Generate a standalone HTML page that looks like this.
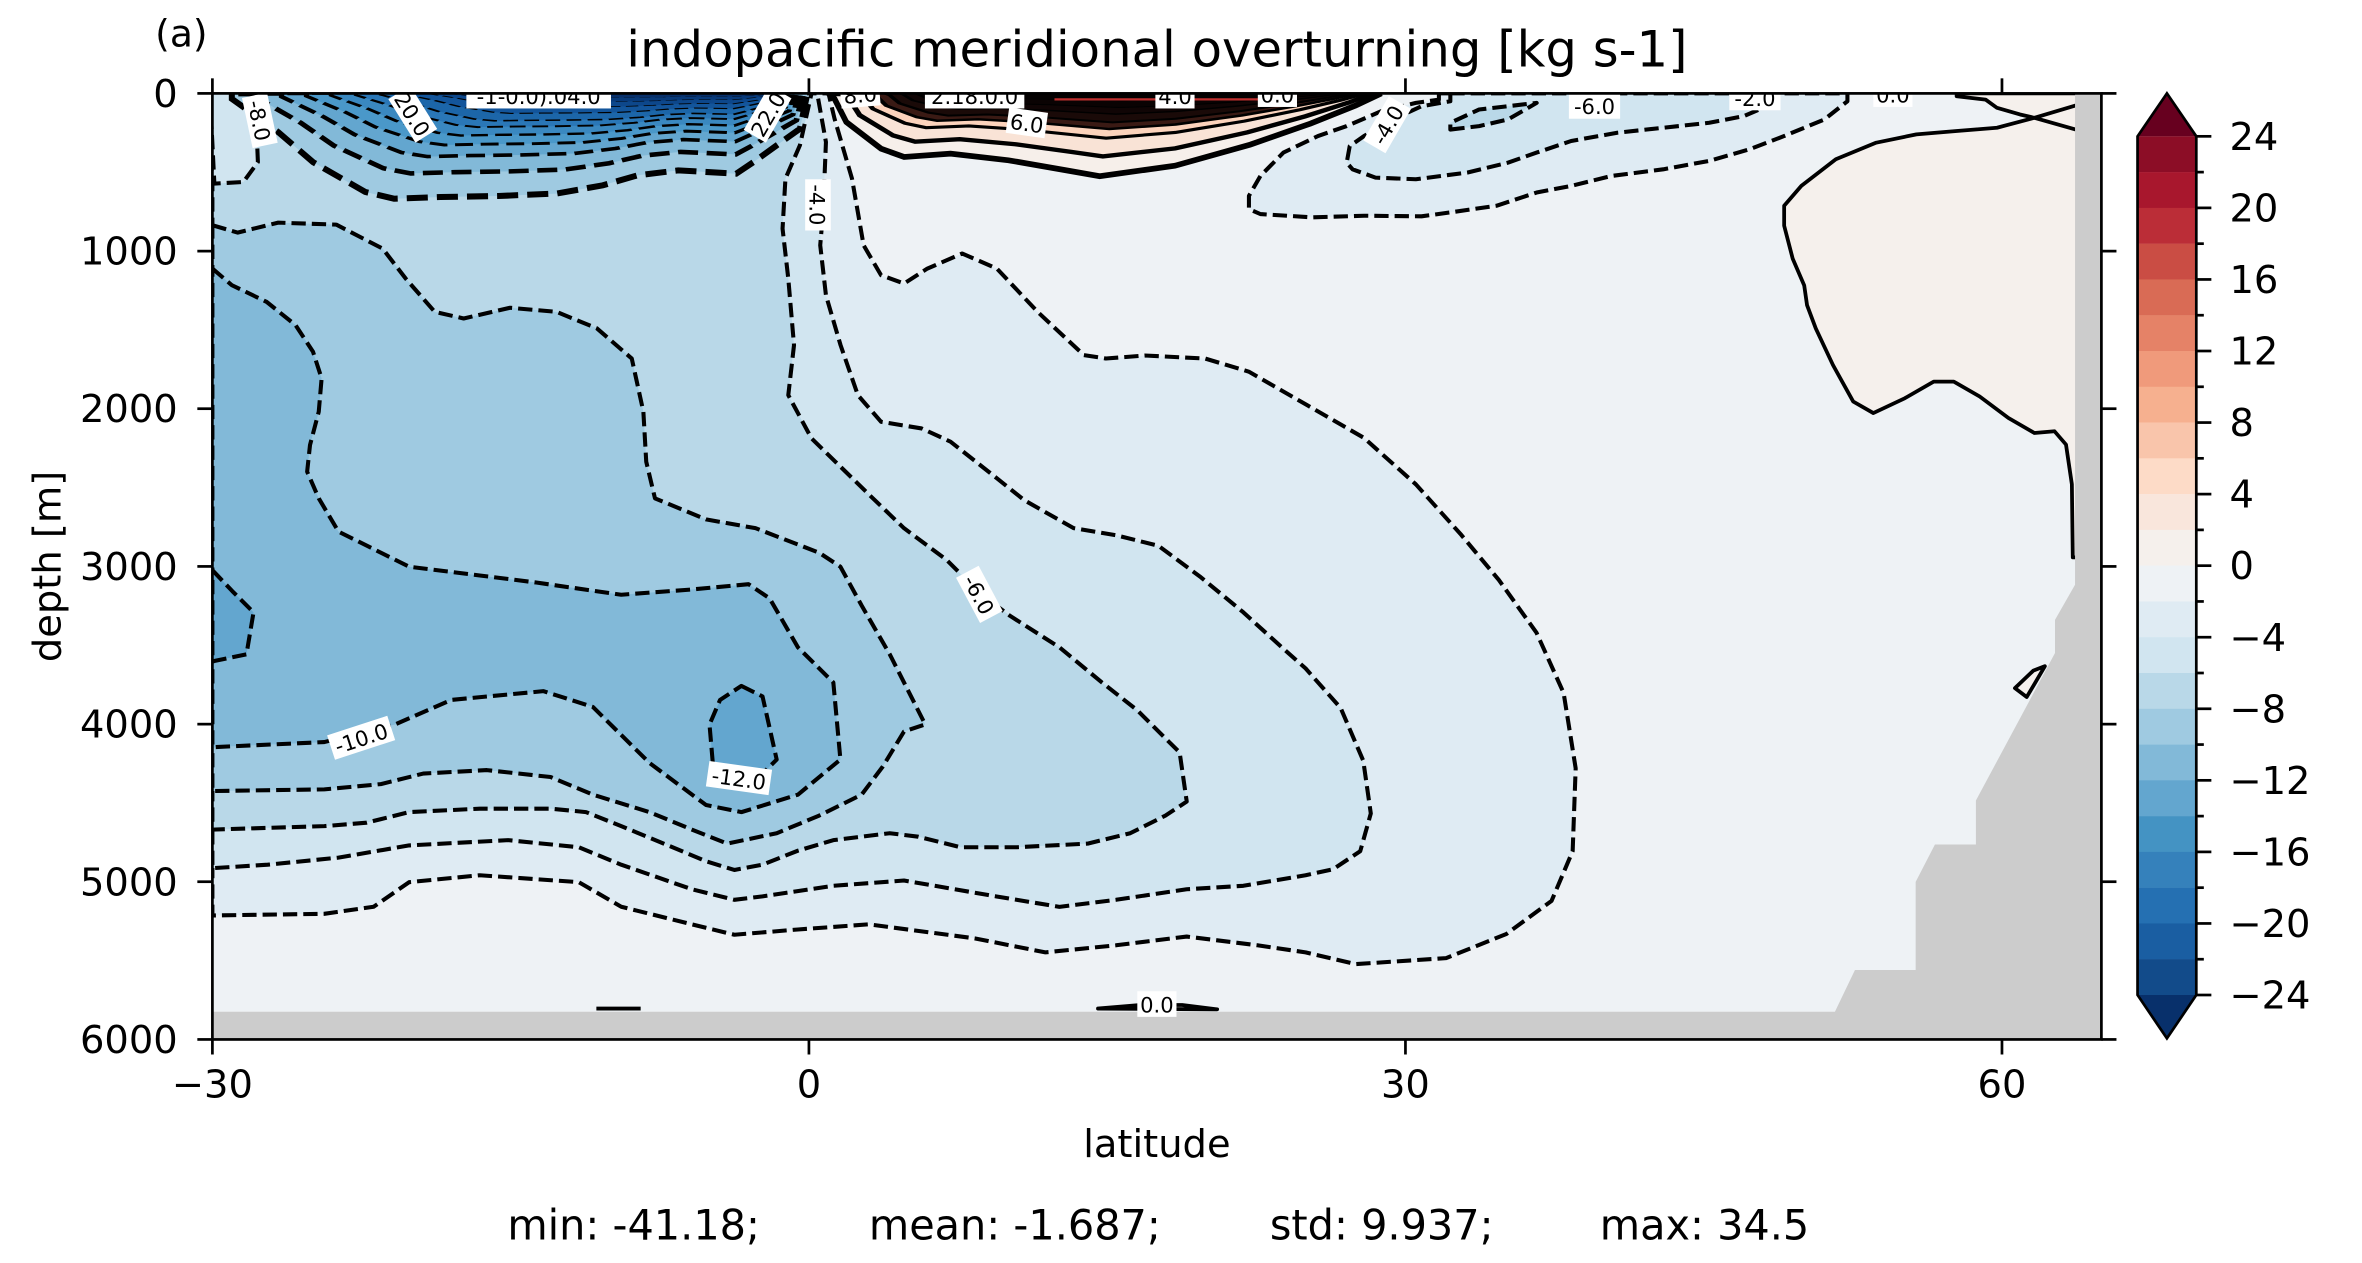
<!DOCTYPE html>
<html><head><meta charset="utf-8"><style>
html,body{margin:0;padding:0;background:#fff;}
svg{display:block;}
text{font-family:"DejaVu Sans","Liberation Sans",sans-serif;fill:#000;}
.dl{stroke:#000;stroke-width:2.7;stroke-dasharray:9.5 4;fill-rule:evenodd;stroke-linejoin:round;}
.sl{stroke:#000;stroke-width:2.5;stroke-linejoin:round;}
.nb{stroke:#000;stroke-width:4;stroke-dasharray:14 6;vector-effect:non-scaling-stroke;}
.ps{stroke:#000;stroke-width:3.8;vector-effect:non-scaling-stroke;}
.cl rect{fill:#fff;}
.cl text{font-size:14px;text-anchor:middle;}
.tk{stroke:#000;stroke-width:1.8;}
.tl{font-size:25.5px;}
</style></head><body>
<svg width="2362" height="1263" viewBox="0 0 1568 838.4" preserveAspectRatio="none" xmlns="http://www.w3.org/2000/svg">
<defs>
<clipPath id="pc"><rect x="141" y="62" width="1254" height="628"/></clipPath>
<path id="b1" d="M153.9,62 L153.9,65.6 L184.7,87.7 L207.8,107.6 L242.4,127.4 L261.6,131.9 L292.4,130.8 L330.9,130.1 L369.4,128.5 L400.2,123 L423.2,116.4 L450.2,113.1 L488.7,115.3 L500.2,107.6 L515.6,96.5 L531,85.5 L536,62 Z"/>
<path id="p1" d="M550,62 L554,65.6 L561.8,81 L584.9,98.7 L600.2,104.2 L631,102 L669.5,106.4 L708,113.1 L730,117 L780,110 L830,96 L870,82 L900,70 L917,62 Z"/>
</defs>
<rect width="1568" height="838.4" fill="#fff"/>
<g clip-path="url(#pc)">
<rect x="141" y="62" width="1254" height="628" fill="#eef2f5"/>
<path class="dl" fill="#dfebf3" d="M141,62 L550,62 L554,78.8 L565.6,118.6 L573.3,162.8 L584.9,182.7 L600.2,188.2 L615.6,178.3 L638.7,168.3 L661.8,178.3 L688.8,207 L719.5,235.7 L734.2,238 L760,236 L800,238 L829,246.7 L867.3,268.7 L905.5,290.7 L939.9,321.5 L970,355 L995,385 L1020,420 L1038,460 L1046,510 L1044,565 L1030,598 L1000,620 L960,636 L900,640 L866.7,632.2 L834.7,627.5 L787.8,621.7 L740.9,627.5 L694,632.2 L647,622.9 L576.6,613.6 L529.7,617 L487.5,620.5 L459.3,613.6 L412.4,601.9 L384.2,585.6 L318.5,581 L271.6,585.6 L248.1,601.9 L215.3,606.6 L141,607.7 Z"/>
<path class="dl" fill="#d1e5f0" d="M141,62 L542.5,62 L548.3,94.3 L546.4,140.7 L544.5,162.8 L548.3,196 L558,229.1 L569.5,262.3 L584.9,280 L611.8,284.4 L631,293.2 L661.8,317.5 L679.9,332 L712.7,350.6 L740.9,355.3 L769,362.3 L797.2,383.2 L825.4,406.5 L853.5,432 L866.7,443.7 L890,470 L905,505 L910,540 L903,565 L885,577 L866.7,581 L825.4,588 L787.8,590.3 L740.9,597.3 L703.3,602 L661.1,595 L600.1,584.5 L553.2,588 L506.2,595 L487.5,597.3 L459.3,590.3 L412.4,574 L384.2,562.4 L337.3,557.7 L271.6,561.2 L224.7,569.3 L177.7,574 L141,576.3 Z"/>
<path class="dl" fill="#b9d8e8" d="M141,62 L538.7,62 L531,96.5 L521.4,118.6 L519.5,151.8 L523.3,184.9 L527.1,229.1 L523.3,262.3 L538.7,291 L577.2,328.6 L600.1,350.6 L628.3,371.6 L651.7,394.8 L670.5,408.8 L703.3,429.7 L731.5,453 L755,471.5 L783.1,499.5 L787.8,532.1 L773.7,541.4 L750.3,553.1 L722.1,560 L675.2,562.4 L637.6,562.4 L609.5,555.4 L590.7,553.1 L553.2,557.7 L529.7,564.7 L506.2,574 L487.5,577.5 L468.7,571.7 L440.6,560 L412.4,548.4 L389,539.1 L365.5,536.8 L318.5,536.8 L271.6,539.1 L243.4,546.1 L215.3,548.4 L141,550.7 Z"/>
<path class="dl" fill="#9fcae1" d="M141,149.5 L157.7,154.4 L184.7,147.8 L223.2,149.1 L254,165 L269.3,184.9 L288.6,207 L307.8,211.4 L338.6,204.3 L369.4,207 L396.3,218 L419.4,238 L427.1,273.3 L429,306.5 L434.8,330.8 L468.7,344.8 L501.5,350.6 L543.8,366.9 L557.9,376.2 L571.9,401.8 L590.7,434.4 L614.2,480.9 L600.1,485.6 L586,508.9 L572,527.5 L543.8,541.4 L515.6,553.1 L482.8,560 L459.3,550.7 L431.2,539.1 L393.6,527.5 L365.5,515.8 L323.2,511.2 L281,513.5 L252.8,520.5 L215.3,524 L141,525.1 Z"/>
<path class="dl" fill="#82b9d8" d="M141,178.3 L153.9,189.3 L177,200.4 L196.2,215.8 L207.8,233.5 L213.5,251.2 L211.6,273.3 L205.8,295.4 L203.9,313.1 L211.6,330.8 L224.7,352.9 L271.6,376.2 L318.5,382 L356,386.7 L412.4,394.8 L459.3,391.3 L496.9,387.8 L510.9,397.2 L529.7,429.7 L553.2,453 L557.9,504.2 L529.7,527.5 L492.2,539.1 L468.7,534.4 L431.2,506.5 L393.6,469.3 L360.8,458.8 L299.7,464.6 L262.2,480.9 L215.3,492.6 L141,496 Z"/>
<path class="dl" fill="#63a6cf" d="M141,378.5 L154.3,392.5 L168.3,406.5 L163.6,434.4 L141,439 Z"/>
<path class="dl" fill="#63a6cf" d="M492.2,455.3 L506.2,462.3 L515.6,504.2 L506.2,513.5 L473.4,508.9 L471,481 L478,464.6 Z"/>
<path class="dl" fill="#d1e5f0" d="M139.3,61.1 L169.3,61.1 L171.2,107.6 L161.6,120.8 L142.3,121.9 Z"/>
<use href="#b1" class="nb" fill="#9fcae1"/>
<use href="#b1" class="nb" fill="#82b9d8" transform="translate(349.1,62) scale(0.95,0.76) translate(-342,-62)"/>
<use href="#b1" class="nb" fill="#63a6cf" transform="translate(356.2,62) scale(0.9,0.6) translate(-342,-62)"/>
<use href="#b1" class="nb" fill="#4a98c9" transform="translate(363.3,62) scale(0.85,0.49) translate(-342,-62)"/>
<use href="#b1" class="nb" fill="#3a88c0" transform="translate(370.3,62) scale(0.8,0.4) translate(-342,-62)"/>
<use href="#b1" class="nb" fill="#2a77b7" transform="translate(377.4,62) scale(0.75,0.32) translate(-342,-62)"/>
<use href="#b1" class="nb" fill="#1c66a9" transform="translate(384.5,62) scale(0.7,0.26) translate(-342,-62)"/>
<use href="#b1" class="nb" fill="#13559b" transform="translate(391.6,62) scale(0.65,0.19) translate(-342,-62)"/>
<use href="#b1" class="nb" fill="#0d478b" transform="translate(398.7,62) scale(0.6,0.13) translate(-342,-62)"/>
<use href="#b1" class="nb" fill="#083a7a" transform="translate(404.3,62) scale(0.56,0.08) translate(-342,-62)"/>
<use href="#b1" class="nb" fill="#08306b" transform="translate(410,62) scale(0.52,0.04) translate(-342,-62)"/>
<path class="dl" fill="#dfebf3" d="M955.2,62 L1226.4,62 L1226.4,67.2 L1211.1,79.3 L1184.4,90.3 L1161.4,99.1 L1134.7,106.8 L1104.1,112.4 L1069.8,116.8 L1043,123.4 L1020.1,127.8 L993.4,136.6 L962.8,141 L943.7,143.6 L905.5,143.2 L871.1,144.3 L836.7,142.1 L829.1,138.8 L829.1,130 L836.7,116.8 L852,101.3 L874.9,90.3 L894,83.7 L917,73.8 L939.9,68.3 L955.2,66.1 Z"/>
<path class="dl" fill="#d1e5f0" d="M962.8,62 L1176.7,62 L1172.9,70.5 L1157.6,77.1 L1134.7,81.5 L1104.1,84.8 L1073.6,88.1 L1043,93.6 L1020.1,101.3 L1001,108 L974.3,114.5 L939.9,119 L913.1,117.9 L897.9,112.4 L894,108 L896,97 L905.5,90.3 L924.6,79.3 L943.7,70.5 L962.8,67.2 Z"/>
<path class="dl" fill="#b9d8e8" d="M962.8,86 L981.9,83.7 L1001,79.3 L1012.5,72.7 L1020.1,68.3 L981.9,72.7 L962.8,81.5 Z"/>
<path class="sl" fill="#f5f0ec" d="M1298.9,62 L1298.9,63.9 L1318.1,66.1 L1325.7,71.6 L1341,76 L1350.5,78.2 L1325.7,84.8 L1298.9,87 L1272.2,89.2 L1245.5,94.7 L1218.7,105.7 L1195.8,123.4 L1184.4,136.6 L1184.4,149.8 L1190.1,171.8 L1197.7,189.4 L1199.6,202.6 L1205.4,218 L1216.8,242.3 L1230.2,266.5 L1243.6,274.2 L1264.6,264.3 L1283.7,253.3 L1297,253.3 L1314.2,263.2 L1333.3,277.5 L1350.5,287.4 L1363.9,286.3 L1371.5,295.1 L1375.4,321.5 L1376,370 L1395,370 L1395,62 Z"/>
<path class="sl" fill="none" d="M1350.5,78.2 L1378,86 M1350.5,78.2 L1378,70"/>
<path class="sl" fill="#f5f0ec" d="M1337.6,456.8 L1349.8,445.2 L1357.5,442.2 L1350,455 L1345.4,462.7 Z"/>
<use href="#p1" class="ps" fill="#f6efea"/>
<use href="#p1" class="ps" fill="#f9e3d6" transform="translate(735.5,62) scale(0.96,0.76) translate(-733.5,-62)"/>
<use href="#p1" class="ps" fill="#fcd3bc" transform="translate(737.5,62) scale(0.92,0.54) translate(-733.5,-62)"/>
<use href="#p1" class="ps" fill="#3a1a14" transform="translate(739.5,62) scale(0.88,0.43) translate(-733.5,-62)"/>
<use href="#p1" class="ps" fill="#1a0a08" transform="translate(741.5,62) scale(0.84,0.35) translate(-733.5,-62)"/>
<use href="#p1" class="ps" fill="#100505" transform="translate(743.5,62) scale(0.8,0.25) translate(-733.5,-62)"/>
<use href="#p1" class="ps" fill="#0a0303" transform="translate(745.5,62) scale(0.76,0.17) translate(-733.5,-62)"/>
<use href="#p1" class="ps" fill="#050202" transform="translate(747.5,62) scale(0.72,0.09) translate(-733.5,-62)"/>
<path d="M700,66 L840,66" stroke="#c0302f" stroke-width="1.5"/>
<path class="sl" fill="#f5f0ec" d="M728.9,669.5 L756.9,667.1 L784.8,667.1 L808,670 Z"/>
<path class="sl" fill="none" d="M395.9,669.5 L425.3,669.5"/>
<path fill="#cccccc" d="M141,671.6 L1218.1,671.6 L1231.4,643.9 L1271.7,643.9 L1271.7,585.4 L1284.5,560.6 L1311.7,560.6 L1311.7,531.4 L1364.2,433.5 L1364.2,411.5 L1377.5,388.2 L1377.5,62 L1395,62 L1395,690 L141,690 Z"/>
<g class="cl">
<g transform="translate(172,80) rotate(78)"><rect x="-17" y="-9" width="34" height="17"/><text y="5">-8.0</text></g>
<g transform="translate(273.6,76) rotate(58)"><rect x="-17" y="-9" width="34" height="17"/><text y="5">20.0</text></g>
<g transform="translate(357.6,64)"><rect x="-48" y="-9" width="96" height="17"/><text y="5">-1-0.0).04.0</text></g>
<g transform="translate(510,76) rotate(-60)"><rect x="-17" y="-9" width="34" height="17"/><text y="5">22.0</text></g>
<g transform="translate(571,63) rotate(-5)"><rect x="-13" y="-9" width="26" height="17"/><text y="5">8.0</text></g>
<g transform="translate(647,64)"><rect x="-33" y="-9" width="66" height="17"/><text y="5">2.18.0.0</text></g>
<g transform="translate(681.6,82) rotate(8)"><rect x="-13" y="-9" width="26" height="17"/><text y="5">6.0</text></g>
<g transform="translate(780,64)"><rect x="-13" y="-9" width="26" height="17"/><text y="5">4.0</text></g>
<g transform="translate(848,63)"><rect x="-13" y="-9" width="26" height="17"/><text y="5">0.0</text></g>
<g transform="translate(921.3,83) rotate(-60)"><rect x="-17" y="-9" width="34" height="17"/><text y="5">-4.0</text></g>
<g transform="translate(1058.5,70.8)"><rect x="-17" y="-9" width="34" height="17"/><text y="5">-6.0</text></g>
<g transform="translate(1165,65.2)"><rect x="-17" y="-9" width="34" height="17"/><text y="5">-2.0</text></g>
<g transform="translate(1256.6,63)"><rect x="-13" y="-9" width="26" height="17"/><text y="5">0.0</text></g>
<g transform="translate(542.5,136) rotate(90)"><rect x="-17" y="-9" width="34" height="17"/><text y="5">-4.0</text></g>
<g transform="translate(649.7,394.8) rotate(62)"><rect x="-17" y="-9" width="34" height="17"/><text y="5">-6.0</text></g>
<g transform="translate(239.9,490.2) rotate(-18)"><rect x="-21" y="-9" width="42" height="17"/><text y="5">-10.0</text></g>
<g transform="translate(490.5,517) rotate(8)"><rect x="-21" y="-9" width="42" height="17"/><text y="5">-12.0</text></g>
<g transform="translate(768,667)"><rect x="-13" y="-9" width="26" height="17"/><text y="5">0.0</text></g>
</g>
</g>
<rect x="141" y="62" width="1254" height="628" fill="none" stroke="#000" stroke-width="1.8"/>
<g class="tk">
<line x1="131" y1="62" x2="141" y2="62"/><line x1="131" y1="166.7" x2="141" y2="166.7"/><line x1="131" y1="271.3" x2="141" y2="271.3"/><line x1="131" y1="376" x2="141" y2="376"/><line x1="131" y1="480.7" x2="141" y2="480.7"/><line x1="131" y1="585.3" x2="141" y2="585.3"/><line x1="131" y1="690" x2="141" y2="690"/>
<line x1="1395" y1="62" x2="1405" y2="62"/><line x1="1395" y1="166.7" x2="1405" y2="166.7"/><line x1="1395" y1="271.3" x2="1405" y2="271.3"/><line x1="1395" y1="376" x2="1405" y2="376"/><line x1="1395" y1="480.7" x2="1405" y2="480.7"/><line x1="1395" y1="585.3" x2="1405" y2="585.3"/><line x1="1395" y1="690" x2="1405" y2="690"/>
<line x1="141" y1="690" x2="141" y2="700"/><line x1="537" y1="690" x2="537" y2="700"/><line x1="933" y1="690" x2="933" y2="700"/><line x1="1329" y1="690" x2="1329" y2="700"/>
<line x1="141" y1="52" x2="141" y2="62"/><line x1="537" y1="52" x2="537" y2="62"/><line x1="933" y1="52" x2="933" y2="62"/><line x1="1329" y1="52" x2="1329" y2="62"/>
</g>
<g class="tl" text-anchor="end">
<text x="118" y="71">0</text><text x="118" y="175.7">1000</text><text x="118" y="280.3">2000</text><text x="118" y="385">3000</text><text x="118" y="489.7">4000</text><text x="118" y="594.3">5000</text><text x="118" y="699">6000</text>
</g>
<g class="tl" text-anchor="middle">
<text x="141" y="728.5">−30</text><text x="537" y="728.5">0</text><text x="933" y="728.5">30</text><text x="1329" y="728.5">60</text>
</g>
<text x="768" y="767.9" font-size="25.5" text-anchor="middle">latitude</text>
<text transform="translate(40,376) rotate(-90)" font-size="25.5" text-anchor="middle">depth [m]</text>
<text x="768" y="44" font-size="33" text-anchor="middle">indopacific meridional overturning [kg s-1]</text>
<text x="103" y="31" font-size="25">(a)</text>
<g font-size="27.5">
<text x="336.8" y="822.8">min: -41.18;</text>
<text x="576.8" y="822.8">mean: -1.687;</text>
<text x="843" y="822.8">std: 9.937;</text>
<text x="1062" y="822.8">max: 34.5</text>
</g>
<g>
<path d="M1419,90.5 L1438.5,62 L1458,90.5 Z" fill="#67001f"/>
<path d="M1419,660.5 L1438.5,689.3 L1458,660.5 Z" fill="#08306b"/>
<rect x="1419" y="90.5" width="39" height="23.9" fill="#8c0d26"/>
<rect x="1419" y="114.25" width="39" height="23.9" fill="#a8172d"/>
<rect x="1419" y="138" width="39" height="23.9" fill="#bb2d37"/>
<rect x="1419" y="161.75" width="39" height="23.9" fill="#ca4d44"/>
<rect x="1419" y="185.5" width="39" height="23.9" fill="#d96b55"/>
<rect x="1419" y="209.25" width="39" height="23.9" fill="#e58267"/>
<rect x="1419" y="233" width="39" height="23.9" fill="#f09a7b"/>
<rect x="1419" y="256.75" width="39" height="23.9" fill="#f6b08f"/>
<rect x="1419" y="280.5" width="39" height="23.9" fill="#f9c5ab"/>
<rect x="1419" y="304.25" width="39" height="23.9" fill="#fddbc7"/>
<rect x="1419" y="328" width="39" height="23.9" fill="#f9e6dc"/>
<rect x="1419" y="351.75" width="39" height="23.9" fill="#f5f0ec"/>
<rect x="1419" y="375.5" width="39" height="23.9" fill="#eef2f5"/>
<rect x="1419" y="399.25" width="39" height="23.9" fill="#dfebf3"/>
<rect x="1419" y="423" width="39" height="23.9" fill="#d1e5f0"/>
<rect x="1419" y="446.75" width="39" height="23.9" fill="#b9d8e8"/>
<rect x="1419" y="470.5" width="39" height="23.9" fill="#9fcae1"/>
<rect x="1419" y="494.25" width="39" height="23.9" fill="#82b9d8"/>
<rect x="1419" y="518" width="39" height="23.9" fill="#63a6cf"/>
<rect x="1419" y="541.75" width="39" height="23.9" fill="#4493c3"/>
<rect x="1419" y="565.5" width="39" height="23.9" fill="#3581bb"/>
<rect x="1419" y="589.25" width="39" height="23.9" fill="#2570b2"/>
<rect x="1419" y="613" width="39" height="23.9" fill="#1a5ea2"/>
<rect x="1419" y="636.75" width="39" height="23.75" fill="#124b8a"/>
<path d="M1419,90.5 L1438.5,62 L1458,90.5 L1458,660.5 L1438.5,689.3 L1419,660.5 Z" fill="none" stroke="#000" stroke-width="1.8"/>
<g class="tk">
<line x1="1458" y1="90.5" x2="1468" y2="90.5"/><line x1="1458" y1="138" x2="1468" y2="138"/><line x1="1458" y1="185.5" x2="1468" y2="185.5"/><line x1="1458" y1="233" x2="1468" y2="233"/><line x1="1458" y1="280.5" x2="1468" y2="280.5"/><line x1="1458" y1="328" x2="1468" y2="328"/><line x1="1458" y1="375.5" x2="1468" y2="375.5"/><line x1="1458" y1="423" x2="1468" y2="423"/><line x1="1458" y1="470.5" x2="1468" y2="470.5"/><line x1="1458" y1="518" x2="1468" y2="518"/><line x1="1458" y1="565.5" x2="1468" y2="565.5"/><line x1="1458" y1="613" x2="1468" y2="613"/><line x1="1458" y1="660.5" x2="1468" y2="660.5"/>
<line x1="1458" y1="114.25" x2="1463" y2="114.25"/><line x1="1458" y1="161.75" x2="1463" y2="161.75"/><line x1="1458" y1="209.25" x2="1463" y2="209.25"/><line x1="1458" y1="256.75" x2="1463" y2="256.75"/><line x1="1458" y1="304.25" x2="1463" y2="304.25"/><line x1="1458" y1="351.75" x2="1463" y2="351.75"/><line x1="1458" y1="399.25" x2="1463" y2="399.25"/><line x1="1458" y1="446.75" x2="1463" y2="446.75"/><line x1="1458" y1="494.25" x2="1463" y2="494.25"/><line x1="1458" y1="541.75" x2="1463" y2="541.75"/><line x1="1458" y1="589.25" x2="1463" y2="589.25"/><line x1="1458" y1="636.75" x2="1463" y2="636.75"/>
</g>
<g class="tl">
<text x="1480" y="99.5">24</text><text x="1480" y="147">20</text><text x="1480" y="194.5">16</text><text x="1480" y="242">12</text><text x="1480" y="289.5">8</text><text x="1480" y="337">4</text><text x="1480" y="384.5">0</text><text x="1480" y="432">−4</text><text x="1480" y="479.5">−8</text><text x="1480" y="527">−12</text><text x="1480" y="574.5">−16</text><text x="1480" y="622">−20</text><text x="1480" y="669.5">−24</text>
</g>
</g>
</svg>
</body></html>
